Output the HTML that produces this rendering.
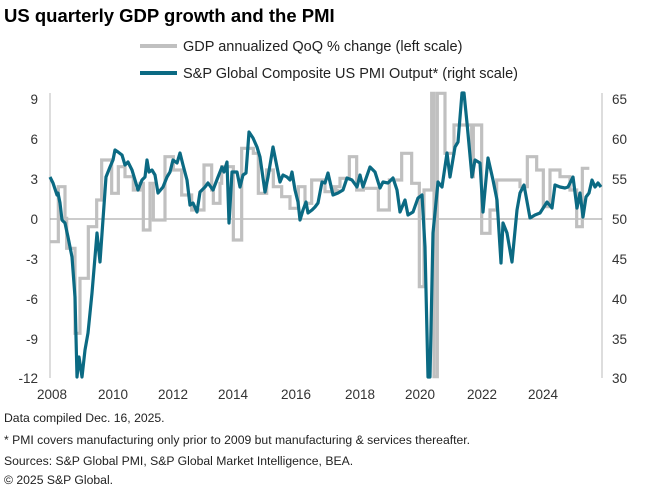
<!DOCTYPE html>
<html><head><meta charset="utf-8"><style>
body{margin:0;width:666px;height:495px;background:#fff;font-family:"Liberation Sans",Arial,sans-serif;overflow:hidden}
svg{position:absolute;left:0;top:0}
text{font-family:"Liberation Sans",Arial,sans-serif}
</style></head><body>
<svg id="s" width="666" height="495" viewBox="0 0 666 495">
<text x="4" y="22" font-size="18.5" font-weight="bold" fill="#000">US quarterly GDP growth and the PMI</text>
<line x1="140" y1="46" x2="177" y2="46" stroke="#c0c0c0" stroke-width="4"/>
<text x="183" y="51" font-size="14.5" fill="#222">GDP annualized QoQ % change (left scale)</text>
<line x1="140" y1="73" x2="177" y2="73" stroke="#0b6a83" stroke-width="4"/>
<text x="183" y="78" font-size="14.5" fill="#222">S&amp;P Global Composite US PMI Output* (right scale)</text>
<line x1="50" y1="93" x2="50" y2="378" stroke="#bbb" stroke-width="1"/>
<line x1="602" y1="93" x2="602" y2="378" stroke="#bbb" stroke-width="1"/>
<line x1="50" y1="219" x2="602" y2="219" stroke="#999" stroke-width="1"/>
<g font-size="13.5" fill="#333" text-anchor="end">
<text x="38" y="104">9</text><text x="38" y="144">6</text><text x="38" y="184">3</text><text x="38" y="224">0</text><text x="38" y="264">-3</text><text x="38" y="304">-6</text><text x="38" y="344">-9</text><text x="38" y="383">-12</text>
</g>
<g font-size="13.5" fill="#333">
<text x="612" y="104">65</text><text x="612" y="144">60</text><text x="612" y="184">55</text><text x="612" y="224">50</text><text x="612" y="264">45</text><text x="612" y="304">40</text><text x="612" y="344">35</text><text x="612" y="383">30</text>
</g>
<g font-size="13.5" fill="#333" text-anchor="middle">
<text x="52" y="399">2008</text><text x="113" y="399">2010</text><text x="173" y="399">2012</text><text x="233" y="399">2014</text><text x="296" y="399">2016</text><text x="360" y="399">2018</text><text x="420" y="399">2020</text><text x="482" y="399">2022</text><text x="543" y="399">2024</text>
</g>
<polyline id="g" fill="none" stroke="#c0c0c0" stroke-width="3.2" stroke-linejoin="miter"/>
<polyline id="p" fill="none" stroke="#0b6a83" stroke-width="3.2" stroke-linejoin="round"/>
<g font-size="12.2" fill="#222">
<text x="4" y="422">Data compiled Dec. 16, 2025.</text>
<text x="4" y="444">* PMI covers manufacturing only prior to 2009 but manufacturing &amp; services thereafter.</text>
<text x="4" y="465">Sources: S&amp;P Global PMI, S&amp;P Global Market Intelligence, BEA.</text>
<text x="4" y="484">© 2025 S&amp;P Global.</text>
</g>
</svg>
<script>
var P=[50,177,53,183,57,195,58,193,60,203,62,220,65,223,68,237,72,257,75,297,77,377,79,357,82,377,85,350,88,333,92,293,97,233,100,262,106,177,110,167,113,160,115,150,118,152,122,155,125,165,128,162,132,170,135,180,138,190,142,180,145,177,147,160,149,172,152,170,155,175,158,193,163,187,167,177,170,172,173,160,177,163,180,153,183,165,187,180,190,205,193,203,197,212,200,192,205,187,208,183,213,190,218,177,222,167,224,172,227,162,229,223,232,172,237,172,240,187,243,175,246,173,249,132,253,138,257,147,260,157,265,192,268,177,273,147,277,167,280,182,283,175,287,177,290,180,292,172,295,190,298,202,300,220,303,210,306,202,308,213,312,210,315,207,318,203,322,182,325,183,328,173,333,195,338,193,343,190,347,178,352,180,357,187,360,175,363,187,370,167,375,172,380,188,383,182,388,183,393,178,397,190,400,212,405,200,408,215,413,212,418,198,422,195,425,247,428,377,430,377,433,233,438,182,442,187,447,153,450,177,455,147,458,142,462,93,464,93,467,123,472,177,475,160,480,163,483,212,488,158,493,180,497,200,501,263,503,223,507,233,512,262,517,210,520,193,524,185,530,218,535,215,540,213,547,202,552,208,555,185,560,187,565,188,568,187,573,177,577,208,580,193,583,217,586,197,589,193,592,180,595,187,598,183,601,187];
var pts=[];for(var i=0;i<P.length;i+=2)pts.push(P[i]+','+P[i+1]);
document.getElementById('p').setAttribute('points',pts.join(' '));
var S1=[[150,175,485],[175,195,320],[195,200,415],[200,225,505],[225,240,760],[240,265,595],[265,290,440],[290,305,360],[305,335,240],[335,355,340],[355,375,260],[375,400,290],[400,420,330],[420,430,310],[430,450,450],[450,460,310],[460,495,420],[495,520,230],[520,545,270],[545,575,345],[575,612,390],[612,635,255],[635,640,330],[640,660,370],[660,665,310],[665,700,260],[700,725,480],[725,760,205],[760,775,220],[775,800,340],[800,820,270],[820,845,320],[845,870,350],[870,895,385],[895,915,320],[915,935,370],[935,975,300],[975,1020,335]];
var S2=[[0,30,320],[30,58,295],[58,80,230],[80,100,330],[100,145,325],[145,178,390],[178,215,300],[215,245,220],[245,268,310],[268,282,620],[282,305,330],[305,312,40],[312,322,890],[322,345,40],[345,372,220],[372,425,135],[425,430,290],[430,455,135],[455,480,460],[480,500,390],[500,540,300],[540,570,300],[570,592,320],[592,620,230],[620,640,270],[640,660,380],[660,690,270],[690,720,290],[720,740,330],[740,757,440],[757,778,265]];
var g=[];
S1.forEach(function(s){var y=80+s[2]/3;g.push(s[0]/3+','+y, s[1]/3+','+y);});
S2.forEach(function(s){var y=80+s[2]/3;if(y<93)y=93;if(y>378)y=378;g.push((330+s[0]/3)+','+y,(330+s[1]/3)+','+y);});
document.getElementById('g').setAttribute('points',g.join(' '));
</script>
</body></html>
